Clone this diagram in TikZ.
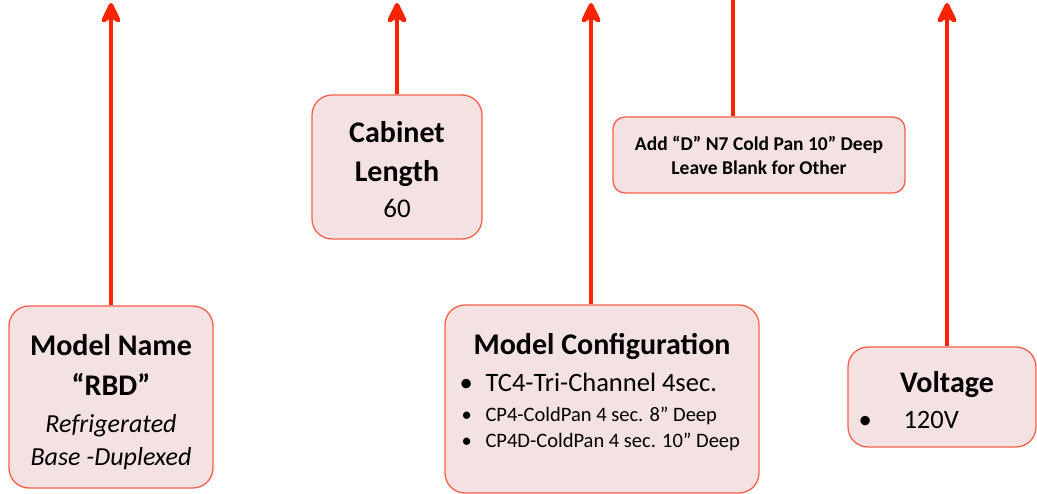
\documentclass[tikz,border=0pt]{standalone}
\usepackage{fontspec}
\setmainfont{Carlito}
\usetikzlibrary{arrows.meta}
\definecolor{arrred}{HTML}{FF2400}
\definecolor{boxfill}{HTML}{F4E1E1}
\definecolor{boxline}{HTML}{F4604C}
\begin{document}
\begin{tikzpicture}[x=1pt,y=-1pt,
  box/.style={draw=boxline, line width=1.3pt, fill=boxfill, rounded corners=20pt, inner sep=0pt},
  conn/.style={draw=arrred, line width=4.5pt},
  arr/.style={conn, -{Stealth[length=26pt,width=25pt,inset=8pt,round]}},
  ttl/.style={anchor=base, font=\fontsize{30}{36}\bfseries\selectfont},
  txt/.style={anchor=base, font=\fontsize{27}{32}\selectfont},
  itx/.style={anchor=base, font=\fontsize{26}{32}\itshape\selectfont},
  sml/.style={anchor=base, font=\fontsize{19.5}{23}\bfseries\selectfont},
  lia/.style={anchor=base west, font=\fontsize{26.5}{31}\selectfont},
  lib/.style={anchor=base west, font=\fontsize{20.5}{24}\selectfont}]
\useasboundingbox (0,0) rectangle (1037,494);
% boxes
\node[box, minimum width=204pt, minimum height=182pt] (mn) at (111,397) {};
\node[box, minimum width=170pt, minimum height=144pt] (cl) at (397,167) {};
\node[box, rounded corners=12pt, minimum width=292pt, minimum height=76pt] (ad) at (759,155) {};
\node[box, minimum width=314pt, minimum height=188pt] (mc) at (602,399) {};
\node[box, minimum width=188pt, minimum height=100pt] (vo) at (942,397) {};
% connector ends
\coordinate (t1) at (111,3);
\coordinate (t2) at (397,3);
\coordinate (t3) at (733,0);
\coordinate (t4) at (591,3);
\coordinate (t5) at (947,3);
\draw[arr] (mn.north) -- (t1);
\draw[arr] (cl.north) -- (t2);
\draw[conn] (ad.north -| t3) -- (t3);
\draw[arr] (mc.north -| t4) -- (t4);
\draw[arr] (vo.north -| t5) -- (t5);
% texts
\node[ttl] (mn1) at (111,356) {Model Name};
\node[ttl] (mn2) at (111,396) {“RBD”};
\node[itx] (mn3) at (111,432) {Refrigerated};
\node[itx] (mn4) at (111,465) {Base -Duplexed};
\node[ttl] (cl1) at (397,143) {Cabinet};
\node[ttl] (cl2) at (397,182) {Length};
\node[txt] (cl3) at (397,218) {60};
\node[sml] (ad1) at (759,151) {Add “D” N7 Cold Pan 10” Deep};
\node[sml] (ad2) at (759,175) {Leave Blank for Other};
\node[ttl] (mc1) at (602,355) {Model Configuration};
\node[lia] (mcb1) at (456,392) {•};
\node[lia] (mc2) at (482,392) {TC4-Tri-Channel 4sec.};
\node[lib] (mcb2) at (458,422) {•};
\node[lib] (mc3) at (482,422) {CP4-ColdPan 4 sec. 8” Deep};
\node[lib] (mcb3) at (458,447) {•};
\node[lib] (mc4) at (482,447) {CP4D-ColdPan 4 sec. 10” Deep};
\node[ttl] (vo1) at (947,393) {Voltage};
\node[lia] (vob) at (855,429) {•};
\node[lia] (vo2) at (900,429) {120V};
\end{tikzpicture}
\end{document}
